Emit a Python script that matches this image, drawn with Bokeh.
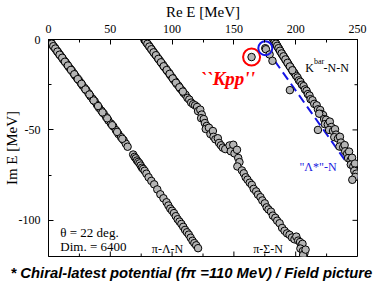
import math
from bokeh.plotting import figure
from bokeh.models import Range1d, SingleIntervalTicker, Label, Title
from bokeh.embed import file_html
from bokeh.resources import INLINE

# ---------------- data (Re E, Im E in MeV) ----------------
pln_re = [0.0, 0.5, 1.0, 1.6, 2.2, 2.9, 3.6, 4.3, 5.1, 5.9, 6.8, 7.7, 8.6, 9.6, 10.6,
          11.7, 12.8, 13.9, 15.1, 16.3, 17.6, 18.9, 20.2, 21.6, 23.0, 24.5, 26.0, 27.5,
          29.1, 30.7, 32.3, 34.0, 35.7, 37.4, 39.2, 41.0, 42.8, 44.7, 46.6, 48.5, 50.5,
          52.5, 54.5, 56.6, 58.7, 60.8, 62.5, 64.0, 68.5, 69.6, 70.6, 71.6, 72.6, 73.6,
          74.6, 75.6, 76.6, 77.8, 79.2, 81.0, 83.2, 85.5, 88.0, 90.5, 93.0, 95.5, 97.0,
          98.5, 100.0, 101.5, 103.0, 104.5, 106.0, 107.5, 109.0, 110.5, 112.0, 113.5,
          115.0, 116.5, 118.0, 119.5, 121.0,
          1.3, 2.6, 3.9, 5.5, 7.2, 9.0, 11.1, 13.3, 15.7, 18.2, 20.9, 23.7, 26.7, 29.9,
          33.1, 36.5, 40.1, 43.7, 47.5, 51.5, 55.5, 59.7]
pln_im = [0.0, -0.5, -0.9, -1.5, -2.0, -2.7, -3.4, -4.0, -4.6, -5.5, -6.3, -7.0, -8.0,
          -8.8, -9.7, -10.9, -11.8, -12.7, -13.9, -15.1, -16.2, -17.3, -18.6, -20.0,
          -21.2, -22.4, -23.9, -25.4, -26.8, -28.1, -29.7, -31.4, -32.8, -34.2, -36.1,
          -37.9, -39.4, -41.0, -42.9, -44.8, -46.5, -48.1, -50.1, -52.3, -54.0, -55.7,
          -57.6, -59.3, -63.6, -64.9, -65.7, -66.9, -67.7, -68.5, -69.7, -70.9, -71.6,
          -72.6, -74.2, -76.2, -78.2, -80.1, -82.9, -85.6, -87.8, -90.0, -91.8, -93.5,
          -94.7, -96.0, -97.7, -99.4, -100.7, -102.0, -103.6, -105.3, -106.6, -107.9,
          -109.6, -111.3, -112.6, -113.8, -115.4,
          -1.3, -2.3, -3.7, -5.0, -6.7, -8.4, -10.1, -12.3, -14.4, -16.8, -19.2, -21.9,
          -24.5, -27.6, -30.4, -33.7, -36.8, -40.3, -43.6, -47.4, -51.1, -54.9]

psn_re = [77.5, 78.2, 78.9, 79.6, 80.4, 81.2, 82.0, 82.8, 83.7, 84.6, 85.5, 86.4, 87.4,
          88.4, 89.4, 90.5, 91.6, 92.7, 93.8, 95.0, 96.2, 97.4, 98.6, 99.9, 101.2, 102.5,
          103.8, 105.2, 106.6, 108.0, 109.4, 110.9, 112.4, 113.9, 115.4, 117.0, 118.6,
          120.2, 121.0, 122.8, 124.0, 123.5, 125.6, 126.5, 128.0, 127.2, 129.8, 131.0,
          133.0, 133.5, 135.0, 137.0, 138.0, 139.5, 141.0, 143.0, 146.5, 147.5, 149.5,
          150.5, 152.5, 153.5, 154.5, 152.8, 156.5, 158.0, 159.5, 161.0, 162.8, 164.5,
          166.0, 168.0, 169.5, 171.5, 173.0, 175.0, 176.5, 178.0, 180.0, 181.5, 183.5,
          185.0, 187.0, 189.0, 191.0, 193.0, 195.0, 197.0, 199.0, 200.5, 202.0, 203.5,
          204.5, 205.5, 203.8, 205.8, 207.0, 206.0, 208.0,
          78.6, 80.0, 81.6, 83.2, 85.0, 86.9, 88.9, 91.0, 93.2, 95.6, 98.0, 100.5, 103.1,
          105.9, 108.7]
psn_im = [0.0, -0.6, -1.3, -2.0, -2.7, -3.5, -4.2, -5.0, -5.8, -6.6, -7.5, -8.3, -9.2,
          -10.2, -11.1, -12.1, -13.2, -14.1, -15.3, -16.2, -17.5, -18.4, -19.8, -20.8,
          -22.2, -23.2, -24.6, -25.6, -27.1, -28.1, -29.6, -30.6, -32.3, -33.2, -34.9,
          -35.8, -36.4, -37.3, -39.6, -38.8, -41.5, -43.5, -44.0, -46.2, -47.8, -49.5,
          -48.8, -52.3, -50.6, -53.8, -55.2, -54.6, -57.2, -58.5, -59.8, -60.6, -58.6,
          -61.8, -58.2, -63.0, -61.0, -65.5, -67.8, -70.2, -72.4, -74.0, -76.2, -77.5,
          -79.2, -80.4, -82.6, -84.0, -85.8, -87.2, -89.0, -90.6, -92.8, -94.0, -95.2,
          -97.4, -98.6, -100.2, -101.6, -104.2, -105.8, -107.2, -108.0, -109.5, -110.5,
          -109.0, -111.2, -112.0, -114.0, -113.0, -115.6, -117.0, -118.4, -119.2, -116.2,
          -0.9, -2.4, -3.9, -5.4, -7.1, -8.7, -10.7, -12.6, -14.8, -16.9, -19.0, -21.5,
          -23.9, -26.4, -28.8]

knn_re = [182.0, 182.4, 182.8, 183.2, 183.7, 184.2, 184.7, 185.2, 185.8, 186.4, 187.0,
          187.6, 188.3, 189.0, 189.7, 190.5, 191.3, 192.1, 193.0, 193.9, 194.8, 195.8,
          196.8, 197.8, 199.0, 200.2, 201.5, 202.6, 203.8, 205.0, 206.4, 207.5, 208.8,
          209.8, 211.2, 212.0, 213.6, 215.0, 217.0, 218.0, 219.8, 220.6, 222.2, 219.0,
          223.0, 224.6, 223.6, 226.0, 227.6, 228.8, 227.0, 230.2, 231.8, 232.6, 231.2,
          234.2, 235.8, 236.6, 235.4, 238.4, 239.6, 240.0, 241.6, 243.2, 242.4, 244.4,
          245.6, 244.6, 246.6, 248.0, 247.4, 249.0, 248.2,
          182.2, 183.0, 184.0, 185.0, 186.1, 187.3, 188.6, 190.1, 191.7, 193.4, 195.3,
          197.3]
knn_im = [0.0, -0.5, -1.0, -1.5, -2.0, -2.6, -3.2, -3.8, -4.4, -5.1, -5.8, -6.5, -7.3,
          -8.1, -8.9, -9.7, -10.6, -11.5, -12.4, -13.4, -14.4, -15.4, -16.5, -17.6,
          -18.6, -20.0, -21.0, -22.6, -23.4, -25.0, -25.8, -27.6, -28.4, -30.2, -31.0,
          -33.0, -33.6, -35.6, -36.4, -38.6, -39.0, -41.2, -41.8, -41.0, -44.0, -44.4,
          -46.8, -47.0, -45.4, -48.4, -50.0, -50.6, -49.6, -52.6, -54.0, -54.8, -53.8,
          -57.0, -59.2, -59.6, -58.4, -61.8, -63.2, -62.0, -65.6, -66.8, -65.4, -69.2,
          -70.2, -68.6, -72.6, -74.2, -76.0,
          -0.3, -1.2, -2.3, -3.5, -4.8, -6.2, -7.7, -9.3, -11.0, -12.9, -14.9, -17.0]

lam_re = [175.4, 175.9, 178.9, 181.2, 195.3, 218.0, 245.8]
lam_im = [-4.8, -5.4, -8.3, -11.8, -28.0, -50.0, -77.6]

kpp_re = [164.3]
kpp_im = [-9.7]

dash_re = [176.5, 250.0]
dash_im = [-5.5, -76.5]

x_major = [0, 50, 100, 150, 200, 250]
x_minor = [25, 75, 125, 175, 225]
y_major = [0, -50, -100]
y_minor = [-25, -75]
y_tick_labels = {0: "0", -50: "-50", -100: "-100"}

# ---------------- figure ----------------
XR = (0, 250)
YR = (-120, 0)
p = figure(width=383, height=286, x_range=Range1d(*XR), y_range=Range1d(*YR),
           x_axis_location="above", output_backend="svg", toolbar_location=None,
           min_border_left=43, min_border_right=26, min_border_top=39, min_border_bottom=29)
p.grid.visible = False
p.outline_line_color = "black"
p.outline_line_width = 1
p.background_fill_color = "white"
p.border_fill_color = "white"

# reference-frame mapping (picture pixels -> data) for in-plot annotations
def dx(px):
    return XR[0] + (px - 43) * (XR[1] - XR[0]) / 314.0
def dy(py):
    return YR[1] - (py - 39) * (YR[1] - YR[0]) / 218.0

for ax in (p.xaxis[0], p.yaxis[0]):
    ax.ticker = SingleIntervalTicker(interval=50, num_minor_ticks=2)
    ax.major_tick_in = 5
    ax.major_tick_out = 0
    ax.minor_tick_in = 3
    ax.minor_tick_out = 0
    ax.axis_line_color = "black"
    ax.major_tick_line_color = "black"
    ax.minor_tick_line_color = "black"
    ax.major_label_text_font = "Liberation Serif"
    ax.major_label_text_font_size = "12px"
    ax.major_label_text_color = "black"
    ax.axis_label_text_font = "Liberation Serif"
    ax.axis_label_text_font_size = "15px"
    ax.axis_label_text_font_style = "normal"
    ax.axis_label_text_color = "black"

p.xaxis[0].axis_label = "Re E [MeV]"
p.xaxis[0].major_label_standoff = 7
p.xaxis[0].axis_label_standoff = 2
p.yaxis[0].axis_label = "Im E [MeV]"
p.yaxis[0].major_label_standoff = 8
p.yaxis[0].axis_label_standoff = -4
p.yaxis[0].major_label_overrides = y_tick_labels

# mirror ticks on bottom and right edges (inward)
p.ray(x=x_major, y=YR[0], length=5, length_units="screen", angle=math.pi / 2,
      line_color="black", line_width=1)
p.ray(x=x_minor, y=YR[0], length=3, length_units="screen", angle=math.pi / 2,
      line_color="black", line_width=1)
p.ray(x=XR[1], y=y_major, length=5, length_units="screen", angle=math.pi,
      line_color="black", line_width=1)
p.ray(x=XR[1], y=y_minor, length=3, length_units="screen", angle=math.pi,
      line_color="black", line_width=1)

# ---------------- marks ----------------
p.line(dash_re, dash_im, line_color="#1515e6", line_width=2, line_dash="9 5")
mk = dict(size=7.5, fill_color="#b5b5b5", line_color="black", line_width=1)
p.scatter(pln_re, pln_im, **mk)
p.scatter(psn_re, psn_im, **mk)
p.scatter(knn_re, knn_im, **mk)
p.scatter(lam_re, lam_im, **mk)
p.scatter(kpp_re, kpp_im, **mk)
p.scatter(kpp_re, kpp_im, size=17, fill_color=None, line_color="#ff0000", line_width=2)
p.scatter(lam_re[:1], lam_im[:1], size=14, fill_color=None, line_color="#1515e6", line_width=2)

# ---------------- texts inside the plot ----------------
def lab(text, px, py, size, font="Liberation Serif", style="normal", color="black",
        align="left", baseline="middle"):
    p.add_layout(Label(x=dx(px), y=dy(py), text=text, text_font=font,
                       text_font_size=size, text_font_style=style, text_color=color,
                       text_align=align, text_baseline=baseline))

lab("θ = 22 deg.", 55, 233, "13px")
lab("Dim. = 6400", 55, 247, "13px")
lab("π-Λ-N", 148, 249, "12px")
lab("π-Σ-N", 251, 249, "12px")
lab("K", 304, 68, "12px")
lab("bar", 312.7, 61, "8px")
lab("-N-N", 322.5, 68, "12px")
lab("\"Λ*\"-N", 298, 167, "12px", color="#2020e0")
lab("``Kpp''", 197, 78, "19px", style="bold italic", color="#ff0000")

# ---------------- caption ----------------
p.add_layout(Title(text="* Chiral-latest potential (fπ =110 MeV) / Field picture",
                   text_font="Liberation Sans", text_font_size="14.8px",
                   text_font_style="bold italic", text_color="black",
                   align="left", offset=-38, standoff=12), "below")

open("out.html", "w").write(file_html(p, INLINE))
